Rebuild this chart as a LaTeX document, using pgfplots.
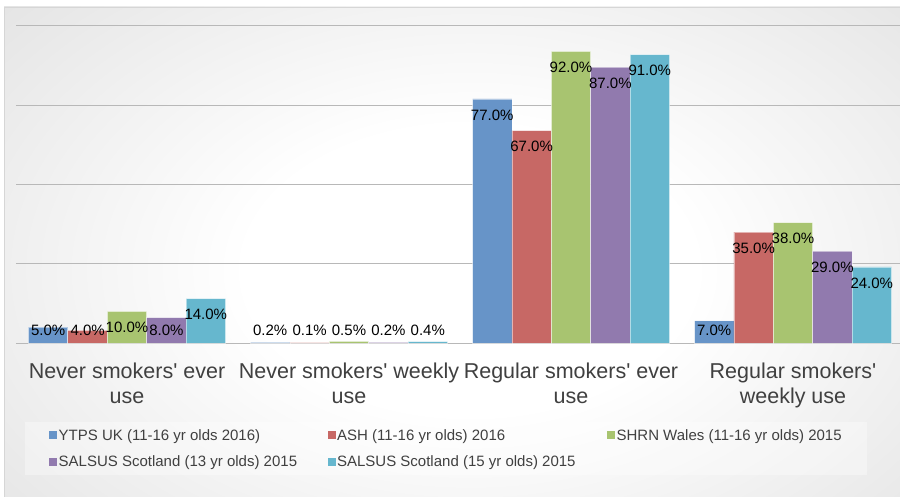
\documentclass[border=0pt]{standalone}
\usepackage{fontspec}
\setmainfont{Liberation Sans}
\usepackage{pgfplots}
\pgfplotsset{compat=1.18}

\definecolor{cBlue}{HTML}{6794C8}
\definecolor{cRed}{HTML}{C76865}
\definecolor{cGreen}{HTML}{A8C470}
\definecolor{cPurple}{HTML}{917AAE}
\definecolor{cCyan}{HTML}{66B7CE}
\definecolor{bgedge}{HTML}{C4C4C4}
\definecolor{framegray}{HTML}{D6D6D6}
\definecolor{gridgray}{HTML}{B8B8B8}
\definecolor{labelgray}{HTML}{404040}

\pgfdeclareradialshading{bgglow}{\pgfpoint{0bp}{0bp}}{%
  color(0bp)=(white); color(10bp)=(white); color(50bp)=(bgedge); color(100bp)=(bgedge)}

\begin{document}
\begin{tikzpicture}
\useasboundingbox (0pt,0pt) rectangle (900pt,496pt);
% soft radial background inside the chart frame
\begin{scope}
  \clip (4pt,0pt) rectangle (900pt,489pt);
  \shade[shading=bgglow] (-90pt,-134pt) rectangle (1030pt,586pt);
\end{scope}
\draw[framegray, line width=1pt] (4.5pt,-5pt) rectangle (905pt,488.5pt);

\begin{axis}[
  at={(16pt,153pt)}, anchor=south west,
  scale only axis, width=888pt, height=317pt,
  xmin=-0.5, xmax=3.5, ymin=0, ymax=100,
  ybar=0pt, bar width=39.4pt,
  axis line style={draw=none},
  ytick={0,25,50,75,100}, yticklabels={},
  ymajorgrids, major grid style={gridgray, line width=1pt},
  major tick length=0pt,
  xtick={0,1,2,3},
  xticklabels={{Never smokers\textquotesingle{} ever\\use},
               {Never smokers\textquotesingle{} weekly\\use},
               {Regular smokers\textquotesingle{} ever\\use},
               {Regular smokers\textquotesingle{}\\weekly use}},
  xticklabel style={font=\fontsize{21.5}{25}\selectfont, text=labelgray,
    align=center, anchor=north, inner sep=0pt, yshift=-19.5pt},
  /pgf/number format/assume math mode=true,
  every axis plot/.append style={draw=white, draw opacity=0.5, line width=0.8pt},
  visualization depends on={rawy \as \rawy},
  nodes near coords={\pgfmathprintnumber[fixed,fixed zerofill,precision=1]{\pgfplotspointmeta}\%},
  every node near coord/.append style={font=\fontsize{15}{17}\selectfont,
    text=black, anchor=center, inner sep=0pt,
    yshift={max(-16,12.5-3.17*\rawy)}},
  legend columns=3,
  legend image code/.code={\fill[#1, fill opacity=1, draw=none] (0pt,-4pt) rectangle (8pt,4pt);},
  legend style={at={(rel axis cs:0.0101,-0.249)}, anchor=north west,
    draw=none, fill=white, fill opacity=0.35, text opacity=1,
    font=\fontsize{15}{17}\selectfont, text=labelgray,
    inner xsep=24pt, inner ysep=7pt, row sep=14pt,
    nodes={inner xsep=1.5pt, inner ysep=0pt},
    /tikz/column 2/.style={column sep=29pt},
    /tikz/column 4/.style={column sep=30pt}},
  legend cell align=left,
]
\addplot[fill=cBlue]   coordinates {(0,5) (1,0.2) (2,77) (3,7)};
\addplot[fill=cRed]    coordinates {(0,4) (1,0.1) (2,67) (3,35)};
\addplot[fill=cGreen]  coordinates {(0,10) (1,0.5) (2,92) (3,38)};
\addplot[fill=cPurple] coordinates {(0,8) (1,0.2) (2,87) (3,29)};
\addplot[fill=cCyan]   coordinates {(0,14) (1,0.4) (2,91) (3,24)};
\legend{YTPS UK (11-16 yr olds 2016), ASH (11-16 yr olds) 2016,
  SHRN Wales (11-16 yr olds) 2015, SALSUS Scotland (13 yr olds) 2015,
  SALSUS Scotland (15 yr olds) 2015}
\end{axis}
\end{tikzpicture}
\end{document}
